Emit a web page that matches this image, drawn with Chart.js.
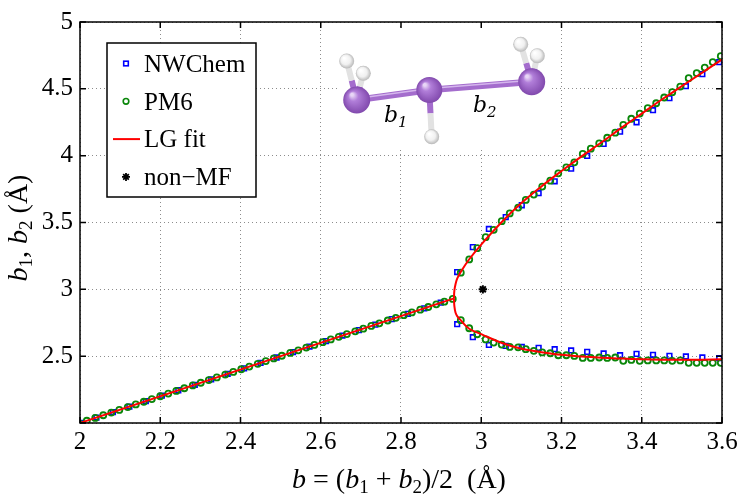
<!DOCTYPE html>
<html>
<head>
<meta charset="utf-8">
<script src="https://cdn.jsdelivr.net/npm/chart.js@4.4.0/dist/chart.umd.min.js"></script>
<style>
html, body { margin: 0; padding: 0; background: #fff; }
#wrap { width: 747px; height: 504px; }
</style>
</head>
<body>
<div id="wrap"><canvas id="bifurcation-chart" width="747" height="504"></canvas></div>
<script>
// axis ticks
const xTicks = [2, 2.2, 2.4, 2.6, 2.8, 3, 3.2, 3.4, 3.6];
const xTickLabels = ["2", "2.2", "2.4", "2.6", "2.8", "3", "3.2", "3.4", "3.6"];
const yTicks = [2, 2.5, 3, 3.5, 4, 4.5, 5];
const yTickLabels = ["", "2.5", "3", "3.5", "4", "4.5", "5"];

// NWChem, symmetric part (b1 = b2)
const nwSymB = [2.000, 2.041, 2.082, 2.123, 2.164, 2.204, 2.245, 2.286, 2.327, 2.368, 2.409, 2.450,
    2.490, 2.531, 2.572, 2.613, 2.654, 2.695, 2.736, 2.777, 2.817, 2.858, 2.899];
const nwSymY = [2.000, 2.041, 2.082, 2.123, 2.164, 2.204, 2.245, 2.286, 2.327, 2.368, 2.409, 2.450,
    2.490, 2.531, 2.572, 2.613, 2.654, 2.695, 2.736, 2.777, 2.817, 2.858, 2.900];
// NWChem, broken-symmetry branches
const nwBranchB = [2.940, 2.979, 3.019, 3.061, 3.101, 3.143, 3.183, 3.224, 3.264, 3.305, 3.346, 3.387,
    3.428, 3.469, 3.510, 3.551, 3.593];
const nwUpY = [3.129, 3.316, 3.452, 3.540, 3.629, 3.719, 3.808, 3.903, 3.998, 4.088, 4.180, 4.250,
    4.340, 4.430, 4.520, 4.610, 4.700];
const nwLowY = [2.739, 2.642, 2.584, 2.577, 2.569, 2.562, 2.552, 2.543, 2.532, 2.520, 2.507, 2.517,
    2.510, 2.502, 2.498, 2.490, 2.485];

// PM6, symmetric part
const pm6SymB = [1.997, 2.017, 2.038, 2.058, 2.078, 2.098, 2.119, 2.139, 2.159, 2.179, 2.200, 2.220,
    2.240, 2.260, 2.281, 2.301, 2.321, 2.341, 2.362, 2.382, 2.402, 2.422, 2.443, 2.463, 2.483, 2.503,
    2.524, 2.544, 2.564, 2.584, 2.605, 2.625, 2.645, 2.665, 2.686, 2.706, 2.726, 2.746, 2.767, 2.787,
    2.807, 2.827, 2.848, 2.868, 2.888, 2.908, 2.929];
const pm6SymY = [1.997, 2.017, 2.038, 2.058, 2.078, 2.098, 2.119, 2.139, 2.159, 2.179, 2.200, 2.220,
    2.240, 2.260, 2.281, 2.301, 2.321, 2.341, 2.362, 2.382, 2.402, 2.422, 2.443, 2.463, 2.483, 2.503,
    2.524, 2.544, 2.564, 2.584, 2.605, 2.625, 2.645, 2.665, 2.686, 2.706, 2.726, 2.746, 2.767, 2.787,
    2.807, 2.827, 2.848, 2.868, 2.888, 2.908, 2.928];
// PM6, broken-symmetry branches
const pm6BranchB = [2.949, 2.970, 2.990, 3.011, 3.031, 3.051, 3.071, 3.092, 3.111, 3.131, 3.152, 3.172,
    3.192, 3.212, 3.232, 3.253, 3.273, 3.294, 3.314, 3.334, 3.354, 3.374, 3.395, 3.415, 3.436, 3.456,
    3.476, 3.496, 3.517, 3.537, 3.557, 3.577, 3.597];
const pm6UpY = [3.125, 3.224, 3.308, 3.390, 3.445, 3.510, 3.568, 3.612, 3.669, 3.709, 3.769, 3.813,
    3.868, 3.913, 3.950, 4.013, 4.052, 4.092, 4.134, 4.172, 4.231, 4.276, 4.315, 4.356, 4.392, 4.435,
    4.475, 4.517, 4.580, 4.617, 4.659, 4.700, 4.744];
const pm6LowY = [2.769, 2.709, 2.664, 2.625, 2.602, 2.587, 2.569, 2.566, 2.552, 2.540, 2.528, 2.522,
    2.507, 2.507, 2.502, 2.487, 2.487, 2.490, 2.487, 2.490, 2.465, 2.472, 2.465, 2.468, 2.468, 2.468,
    2.465, 2.468, 2.450, 2.450, 2.450, 2.450, 2.450];

// LG fit
const fitSymB = [2.0, 2.932];
const fitSymY = [2.0, 2.932];
const fitBranchB = [2.932, 2.933, 2.936, 2.94, 2.95, 2.97, 3.0, 3.05, 3.1, 3.15, 3.2, 3.25, 3.3,
    3.35, 3.4, 3.45, 3.5, 3.55, 3.6];
const fitUpY = [2.932, 2.99, 3.04, 3.08, 3.135, 3.225, 3.335, 3.50, 3.645, 3.77, 3.885, 3.995, 4.10,
    4.21, 4.315, 4.42, 4.52, 4.62, 4.72];
const fitLowY = [2.932, 2.875, 2.825, 2.80, 2.765, 2.705, 2.665, 2.60, 2.555, 2.53, 2.51, 2.497, 2.488,
    2.482, 2.477, 2.474, 2.473, 2.474, 2.476];

// non-MF point
const nonMfB = [3.004];
const nonMfY = [3.0];

const SERIF = '"Liberation Serif", "Times New Roman", serif';
const GREEN = "#0a870a";

function toPoints(xs, ys) {
    return xs.map((x, i) => ({ x: x, y: ys[i] }));
}

// draw a row of text pieces with different fonts
function drawPieces(ctx, pieces, x, y, align) {
    let total = 0;
    pieces.forEach(p => { ctx.font = p.font; total += ctx.measureText(p.t).width; });
    let cx = align === "center" ? x - total / 2 : x;
    ctx.textAlign = "left";
    ctx.textBaseline = "alphabetic";
    pieces.forEach(p => {
        ctx.font = p.font;
        ctx.fillText(p.t, cx, y + (p.dy || 0));
        cx += ctx.measureText(p.t).width;
    });
}

function sphere(ctx, x, y, r, stops) {
    const g = ctx.createRadialGradient(x - r * 0.35, y - r * 0.4, r * 0.1, x, y, r);
    stops.forEach(s => g.addColorStop(s[0], s[1]));
    ctx.fillStyle = g;
    ctx.beginPath();
    ctx.arc(x, y, r, 0, 2 * Math.PI);
    ctx.fill();
}

const PURPLE = [[0, "#e8d6f6"], [0.3, "#b17ed9"], [1, "#8149ad"]];
const WHITE = [[0, "#ffffff"], [0.6, "#f0f0f0"], [1, "#b8b8b8"]];

function drawMolecule(ctx) {
    ctx.save();
    ctx.fillStyle = "#fff";
    ctx.fillRect(337, 28, 213, 119);

    const p1 = [356.7, 100], p2 = [429.3, 90], p3 = [531.7, 81.7];
    const hs = [[p1, [346.7, 61]], [p1, [363.3, 73.3]], [p2, [431.7, 136.7]], [p3, [520.7, 44.3]], [p3, [537.3, 55.7]]];

    ctx.lineCap = "butt";
    // P-H bonds, half purple half white
    hs.forEach(pair => {
        const a = pair[0], b = pair[1];
        const mx = (a[0] + b[0]) / 2, my = (a[1] + b[1]) / 2;
        ctx.lineWidth = 6;
        ctx.strokeStyle = "#a46dcd";
        ctx.beginPath(); ctx.moveTo(a[0], a[1]); ctx.lineTo(mx, my); ctx.stroke();
        ctx.strokeStyle = "#e2e2e2";
        ctx.beginPath(); ctx.moveTo(mx, my); ctx.lineTo(b[0], b[1]); ctx.stroke();
    });
    hs.forEach(pair => sphere(ctx, pair[1][0], pair[1][1], 7.5, WHITE));

    // P-P bonds
    ctx.lineWidth = 6.5;
    ctx.strokeStyle = "#a46dcd";
    ctx.beginPath(); ctx.moveTo(p1[0], p1[1]); ctx.lineTo(p2[0], p2[1]); ctx.lineTo(p3[0], p3[1]); ctx.stroke();
    ctx.lineWidth = 1.5;
    ctx.strokeStyle = "rgba(225,200,245,0.8)";
    ctx.beginPath(); ctx.moveTo(p1[0], p1[1] - 1.5); ctx.lineTo(p2[0], p2[1] - 1.5); ctx.lineTo(p3[0], p3[1] - 1.5); ctx.stroke();

    sphere(ctx, p1[0], p1[1], 13.5, PURPLE);
    sphere(ctx, p2[0], p2[1], 13, PURPLE);
    sphere(ctx, p3[0], p3[1], 13.5, PURPLE);

    ctx.fillStyle = "#000";
    const big = 'italic 22px "DejaVu Serif", serif';
    const small = 'italic 15px "DejaVu Serif", serif';
    drawPieces(ctx, [{ t: "b", font: big }, { t: "1", font: small, dy: 5 }], 384, 122, "left");
    drawPieces(ctx, [{ t: "b", font: big }, { t: "2", font: small, dy: 5 }], 473, 112, "left");
    ctx.restore();
}

function drawLegend(chart, ctx) {
    const labels = ["NWChem", "PM6", "LG fit", "non\u2212MF"];
    ctx.save();
    ctx.fillStyle = "#fff";
    ctx.fillRect(107, 43, 149, 154);
    ctx.strokeStyle = "#000";
    ctx.lineWidth = 1.5;
    ctx.strokeRect(107, 43, 149, 154);

    labels.forEach((lab, i) => {
        const cy = 63.5 + i * 37.8;
        const mx = 126;
        ctx.lineWidth = 1.6;
        if (i === 0) {
            ctx.strokeStyle = "#0000ff";
            ctx.strokeRect(mx - 2.3, cy - 2.3, 4.6, 4.6);
        } else if (i === 1) {
            ctx.strokeStyle = GREEN;
            ctx.beginPath(); ctx.arc(mx, cy, 2.8, 0, 2 * Math.PI); ctx.stroke();
        } else if (i === 2) {
            ctx.strokeStyle = "#ff0000";
            ctx.lineWidth = 2;
            ctx.beginPath(); ctx.moveTo(113, cy); ctx.lineTo(140, cy); ctx.stroke();
        } else {
            ctx.strokeStyle = "#000";
            ctx.lineWidth = 1.8;
            const r = 4;
            ctx.beginPath();
            for (let k = 0; k < 4; k++) {
                const a = k * Math.PI / 4;
                ctx.moveTo(mx - r * Math.cos(a), cy - r * Math.sin(a));
                ctx.lineTo(mx + r * Math.cos(a), cy + r * Math.sin(a));
            }
            ctx.stroke();
        }
        ctx.fillStyle = "#000";
        ctx.font = "25px " + SERIF;
        ctx.textAlign = "left";
        ctx.textBaseline = "alphabetic";
        ctx.fillText(lab, 144, cy + 8.3);
    });
    ctx.restore();
}

const framePlugin = {
    id: "frame",
    afterDraw(chart) {
        const ctx = chart.ctx;
        const a = chart.chartArea;
        const xs = chart.scales.x, ys = chart.scales.y;

        drawMolecule(ctx);

        ctx.save();
        ctx.strokeStyle = "#000";
        ctx.lineWidth = 1.5;
        ctx.strokeRect(a.left, a.top, a.right - a.left, a.bottom - a.top);
        ctx.beginPath();
        xTicks.forEach(v => {
            const px = xs.getPixelForValue(v);
            ctx.moveTo(px, a.bottom); ctx.lineTo(px, a.bottom - 6);
            ctx.moveTo(px, a.top); ctx.lineTo(px, a.top + 6);
        });
        yTicks.forEach(v => {
            const py = ys.getPixelForValue(v);
            ctx.moveTo(a.left, py); ctx.lineTo(a.left + 6, py);
            ctx.moveTo(a.right, py); ctx.lineTo(a.right - 6, py);
        });
        ctx.stroke();

        // axis titles
        ctx.fillStyle = "#000";
        const it = "italic 28px " + SERIF, rm = "28px " + SERIF, sub = "19px " + SERIF;
        drawPieces(ctx, [
            { t: "b", font: it }, { t: " = (", font: rm }, { t: "b", font: it }, { t: "1", font: sub, dy: 5 },
            { t: " + ", font: rm }, { t: "b", font: it }, { t: "2", font: sub, dy: 5 }, { t: ")/2  (\u00C5)", font: rm }
        ], (a.left + a.right) / 2 - 2, 488, "center");

        ctx.translate(27, 228);
        ctx.rotate(-Math.PI / 2);
        drawPieces(ctx, [
            { t: "b", font: it }, { t: "1", font: sub, dy: 5 }, { t: ", ", font: rm },
            { t: "b", font: it }, { t: "2", font: sub, dy: 5 }, { t: " (\u00C5)", font: rm }
        ], 0, 0, "center");
        ctx.restore();

        drawLegend(chart, ctx);
    }
};

let bifurcationChart;

function initChart() {
    const ctx = document.getElementById("bifurcation-chart").getContext("2d");
    const fitStyle = {
        showLine: true,
        borderColor: "#ff0000",
        borderWidth: 2,
        pointRadius: 0,
        fill: false,
        order: 1
    };

    bifurcationChart = new Chart(ctx, {
        type: "scatter",
        data: {
            datasets: [
                {
                    label: "NWChem",
                    data: toPoints(nwSymB, nwSymY).concat(toPoints(nwBranchB, nwUpY), toPoints(nwBranchB, nwLowY)),
                    pointStyle: "rect",
                    pointRadius: 3.3,
                    borderColor: "#0000ff",
                    backgroundColor: "rgba(0,0,0,0)",
                    borderWidth: 1.6,
                    order: 3
                },
                {
                    label: "PM6",
                    data: toPoints(pm6SymB, pm6SymY).concat(toPoints(pm6BranchB, pm6UpY), toPoints(pm6BranchB, pm6LowY)),
                    pointStyle: "circle",
                    pointRadius: 3,
                    borderColor: GREEN,
                    backgroundColor: "rgba(0,0,0,0)",
                    borderWidth: 1.8,
                    order: 2
                },
                Object.assign({ label: "LG fit", data: toPoints(fitSymB, fitSymY), tension: 0 }, fitStyle),
                Object.assign({ label: "LG fit upper", data: toPoints(fitBranchB, fitUpY), tension: 0.4 }, fitStyle),
                Object.assign({ label: "LG fit lower", data: toPoints(fitBranchB, fitLowY), tension: 0.4 }, fitStyle),
                {
                    label: "non-MF",
                    data: toPoints(nonMfB, nonMfY),
                    pointStyle: "star",
                    pointRadius: 4.2,
                    borderColor: "#000",
                    borderWidth: 2,
                    order: 0
                }
            ]
        },
        options: {
            responsive: false,
            animation: false,
            layout: {
                padding: { top: 21, right: 25, left: 0, bottom: 0 }
            },
            plugins: {
                legend: { display: false },
                tooltip: { enabled: false }
            },
            scales: {
                x: {
                    type: "linear",
                    min: 2,
                    max: 3.6,
                    afterBuildTicks: s => { s.ticks = xTicks.map(v => ({ value: v })); },
                    afterFit: s => { s.height = 81; },
                    ticks: {
                        color: "#000",
                        padding: 4,
                        maxRotation: 0,
                        font: { family: SERIF, size: 25 },
                        callback: (v, i) => xTickLabels[i]
                    },
                    grid: { color: "#8c8c8c", lineWidth: 1, drawTicks: false },
                    border: { display: false, dash: [1, 3] }
                },
                y: {
                    type: "linear",
                    min: 2,
                    max: 5,
                    afterBuildTicks: s => { s.ticks = yTicks.map(v => ({ value: v })); },
                    afterFit: s => { s.width = 80; },
                    ticks: {
                        color: "#000",
                        padding: 7,
                        font: { family: SERIF, size: 25 },
                        callback: (v, i) => yTickLabels[i]
                    },
                    grid: { color: "#8c8c8c", lineWidth: 1, drawTicks: false },
                    border: { display: false, dash: [1, 3] }
                }
            }
        },
        plugins: [framePlugin]
    });
}

initChart();
</script>
</body>
</html>
